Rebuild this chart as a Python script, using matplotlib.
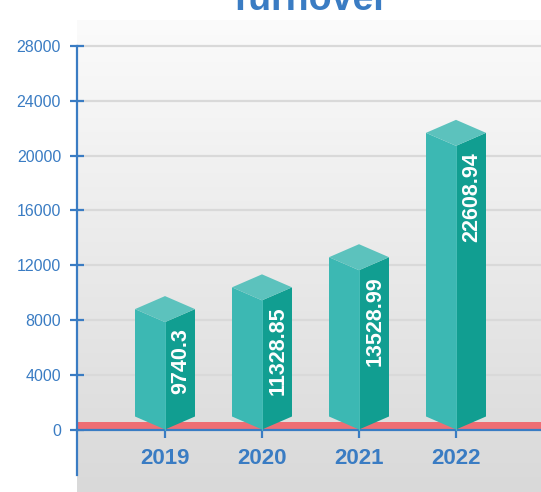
import numpy as np
import matplotlib
matplotlib.use("Agg")
import matplotlib.pyplot as plt
from matplotlib.patches import Polygon
from matplotlib.colors import LinearSegmentedColormap

plt.rcParams['font.family'] = ['Liberation Sans', 'DejaVu Sans']

# Data
years = ["2019", "2020", "2021", "2022"]
turnover = [9740.3, 11328.85, 13528.99, 22608.94]
y_ticks = [0, 4000, 8000, 12000, 16000, 20000, 24000, 28000]
title = "Turnover"

BLUE = "#3a7cc3"
LEFT_FACE = "#3cb8b3"
RIGHT_FACE = "#119e91"
TOP_FACE = "#5cc2bd"
FLOOR = "#ee6e74"

W, H = 541, 492
fig = plt.figure(figsize=(W / 100, H / 100), dpi=100)
fig.patch.set_facecolor("white")

# axes placement in pixels
ax_left, ax_right = 77, 541
ax_top, ax_bottom = 20, 492
ax = fig.add_axes([ax_left / W, 1 - ax_bottom / H,
                   (ax_right - ax_left) / W, (ax_bottom - ax_top) / H])

# data <-> pixel scale
px_x0, px_step = 165.0, 97.0      # pixel of first category, spacing
px_y0, px_ytop = 429.5, 46.0      # pixel of 0 and 28000
unit_per_px = 28000 / (px_y0 - px_ytop)

xmin = (ax_left - px_x0) / px_step
xmax = (ax_right - px_x0) / px_step
ymax = 28000 + (px_ytop - ax_top) * unit_per_px
ymin = -(ax_bottom - px_y0) * unit_per_px
ax.set_xlim(xmin, xmax)
ax.set_ylim(ymin, ymax)

# gradient background: light at the top, grey at the bottom
grad = np.linspace(0, 1, 256).reshape(-1, 1)
cmap = LinearSegmentedColormap.from_list("bg", ["#fbfbfb", "#d9d9d9"])
ax.imshow(grad, aspect="auto", cmap=cmap, origin="upper",
          extent=[xmin, xmax, ymin, ymax],
          zorder=0, interpolation="bicubic")

# grid lines
for t in y_ticks[1:]:
    ax.axhline(t, color="#d9d9d9", lw=1.6, zorder=1)

# red floor strip
ax.axhspan(0, 8 * unit_per_px, color=FLOOR, lw=0, zorder=2)

# pseudo-3D bars
hw = 30 / px_step            # half width in x units
dy = 13 * unit_per_px        # isometric vertical offset
xs = np.arange(len(years))
for x, v in zip(xs, turnover):
    left = [(x - hw, dy), (x, 0), (x, v - 2 * dy), (x - hw, v - dy)]
    right = [(x, 0), (x + hw, dy), (x + hw, v - dy), (x, v - 2 * dy)]
    top = [(x, v - 2 * dy), (x + hw, v - dy), (x, v), (x - hw, v - dy)]
    ax.add_patch(Polygon(left, closed=True, fc=LEFT_FACE, ec="none", zorder=3))
    ax.add_patch(Polygon(right, closed=True, fc=RIGHT_FACE, ec="none", zorder=3))
    ax.add_patch(Polygon(top, closed=True, fc=TOP_FACE, ec="none", zorder=3))
    ax.plot([x, x], [0, v - 2 * dy], color="#52c3be", lw=0.6, zorder=4)
    ax.text(x + hw / 2 + 0.01, v - 2 * dy - 6 * unit_per_px, f"{v}",
            rotation=90, ha="center", va="top", color="white",
            fontsize=15.5, fontweight="bold", zorder=5)

# axes styling
for s in ("top", "right"):
    ax.spines[s].set_visible(False)
ax.spines["left"].set_color(BLUE)
ax.spines["left"].set_linewidth(1.6)
ax.spines["left"].set_bounds(-45 * unit_per_px, 28000)
ax.spines["bottom"].set_position(("data", 0))
ax.spines["bottom"].set_color(BLUE)
ax.spines["bottom"].set_linewidth(1.6)

ax.set_yticks(y_ticks)
ax.set_yticklabels([str(t) for t in y_ticks])
ax.tick_params(axis="y", direction="inout", length=10, width=1.6, color=BLUE,
               labelcolor=BLUE, labelsize=11.5, pad=6.5)
ax.set_xticks(xs)
ax.set_xticklabels(years)
ax.tick_params(axis="x", direction="out", length=6, width=1.6, color=BLUE,
               labelcolor=BLUE, labelsize=16, pad=7)
for lbl in ax.get_xticklabels():
    lbl.set_fontweight("bold")

fig.text(309 / W, 1 - 10 / H, title, ha="center", va="baseline",
         color=BLUE, fontsize=27, fontweight="bold")

fig.savefig("out.png", dpi=100)
